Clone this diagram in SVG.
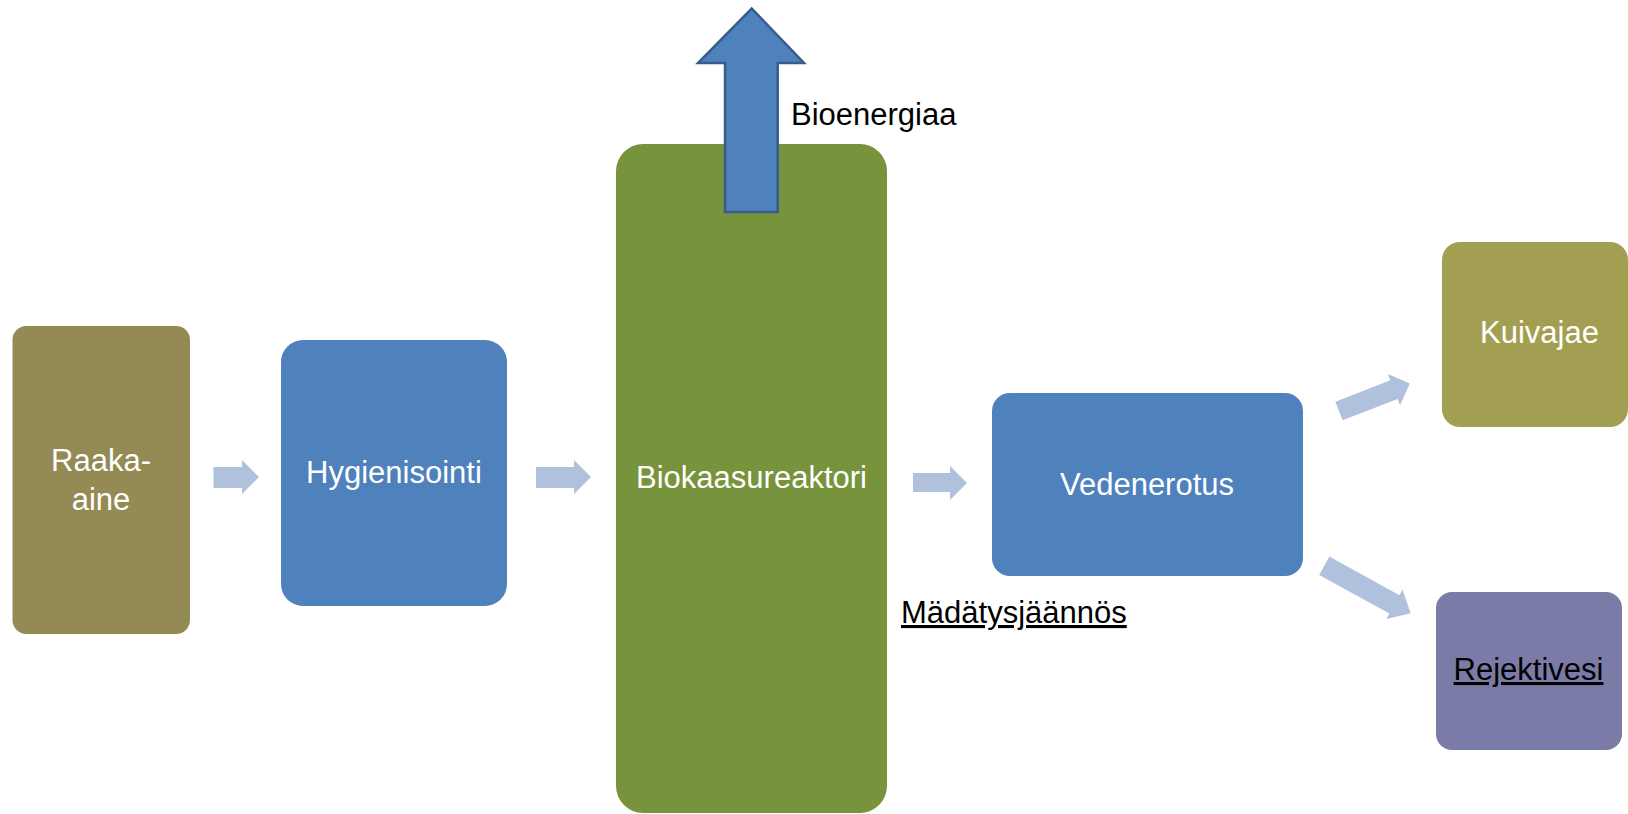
<svg xmlns="http://www.w3.org/2000/svg" width="1628" height="814" viewBox="0 0 1628 814">
  <defs>
    <style>
      .lbl { font-family: "Liberation Sans", Arial, sans-serif; font-size: 31px; text-anchor: middle; }
      .w { fill: #FFFFFF; }
      .k { fill: #000000; }
      .flow { fill: #B0C1DE; }
    </style>
  </defs>
  <rect width="1628" height="814" fill="#FFFFFF"/>

  <g id="connectors">
    <polygon class="flow" points="213.5,467 242,467 242,460 259,477 242,494 242,488 213.5,488"/>
    <polygon class="flow" points="536,467 574,467 574,460 591,477 574,494 574,488 536,488"/>
    <polygon class="flow" points="913,473 950,473 950,466 967,483 950,500 950,492 913,492"/>
    <polygon class="flow" points="0,-10 59,-10 59,-16.8 76,0 59,16.8 59,10 0,10" transform="translate(1339,411) rotate(-21.3)"/>
    <polygon class="flow" points="0,-10.5 80,-10.5 80,-16.8 98.6,0 80,16.8 80,10.5 0,10.5" transform="translate(1324.3,565.8) rotate(28.8)"/>
  </g>

  <g id="raaka-aine">
    <rect x="12.5" y="326" width="177.5" height="308" rx="14" fill="#948A54"/>
    <text class="lbl w" x="101" y="471">Raaka-</text>
    <text class="lbl w" x="101" y="510">aine</text>
  </g>

  <g id="hygienisointi">
    <rect x="281" y="340" width="226" height="266" rx="22" fill="#4F81BD"/>
    <text class="lbl w" x="394" y="483">Hygienisointi</text>
  </g>

  <g id="biokaasureaktori">
    <rect x="616" y="144" width="271" height="669" rx="27" fill="#77933C"/>
    <text class="lbl w" x="751.5" y="488">Biokaasureaktori</text>
  </g>

  <g id="bioenergiaa">
    <polygon points="725,212 725,63 698,63 751.7,8.5 804,63 777.7,63 777.7,212" fill="#4F81BD" stroke="#385D8A" stroke-width="2.5" stroke-linejoin="miter"/>
    <text class="lbl k" x="791" y="125" style="text-anchor:start">Bioenergiaa</text>
  </g>

  <g id="vedenerotus">
    <rect x="992" y="393" width="311" height="183" rx="18" fill="#4F81BD"/>
    <text class="lbl w" x="1147" y="495">Vedenerotus</text>
  </g>

  <g id="madatysjaannos">
    <text class="lbl k" x="901" y="623" style="text-anchor:start" text-decoration="underline">Mädätysjäännös</text>
  </g>

  <g id="kuivajae">
    <rect x="1442" y="242" width="186" height="185" rx="18" fill="#A39F52"/>
    <text class="lbl w" x="1539.5" y="343">Kuivajae</text>
  </g>

  <g id="rejektivesi">
    <rect x="1436" y="592" width="186" height="158" rx="16" fill="#7A7BA7"/>
    <text class="lbl k" x="1528.5" y="680" text-decoration="underline">Rejektivesi</text>
  </g>
</svg>
